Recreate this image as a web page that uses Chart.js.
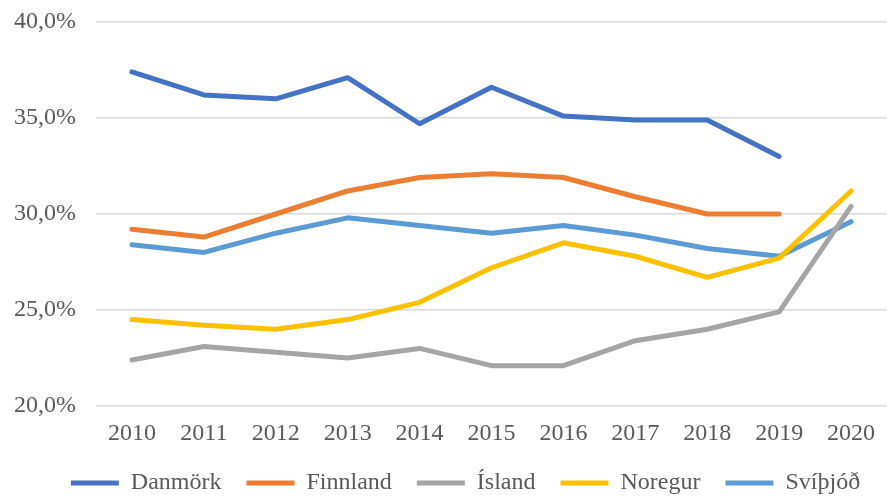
<!DOCTYPE html>
<html>
<head>
<meta charset="utf-8">
<script src="https://cdn.jsdelivr.net/npm/chart.js@4"></script>
<style>
  html, body { margin: 0; padding: 0; background: #fff; }
  #wrap { width: 887px; height: 498px; }
</style>
</head>
<body>
<div id="wrap"><canvas id="myChart"></canvas></div>
<script>
var years = ["2010", "2011", "2012", "2013", "2014", "2015", "2016", "2017", "2018", "2019", "2020"];
var danmork = [37.4, 36.2, 36.0, 37.1, 34.7, 36.6, 35.1, 34.9, 34.9, 33.0, null];
var finnland = [29.2, 28.8, 30.0, 31.2, 31.9, 32.1, 31.9, 30.9, 30.0, 30.0, null];
var island = [22.4, 23.1, 22.8, 22.5, 23.0, 22.1, 22.1, 23.4, 24.0, 24.9, 30.4];
var noregur = [24.5, 24.2, 24.0, 24.5, 25.4, 27.2, 28.5, 27.8, 26.7, 27.7, 31.2];
var svithjod = [28.4, 28.0, 29.0, 29.8, 29.4, 29.0, 29.4, 28.9, 28.2, 27.8, 29.6];

function line(label, data, color) {
  return {
    label: label,
    data: data,
    borderColor: color,
    backgroundColor: color,
    borderWidth: 5,
    borderCapStyle: "round",
    borderJoinStyle: "round",
    pointRadius: 0,
    tension: 0
  };
}

var font = { family: "'Liberation Serif', 'Times New Roman', serif", size: 24 };

// shorter legend box, drawn a bit to the right and lower, like the original
var legendFit = {
  id: "legendFit",
  beforeInit: function (chart) {
    var lg = chart.legend;
    var fit = lg.fit;
    lg.fit = function () {
      fit.call(lg);
      lg.height = 40;
    };
    lg.draw = function () {
      var c = chart.ctx;
      c.save();
      c.translate(22, -12);
      lg._draw();
      c.restore();
    };
  }
};

var ctx = document.getElementById("myChart").getContext("2d");
var myChart = new Chart(ctx, {
  type: "line",
  data: {
    labels: years,
    datasets: [
      line("Danmörk", danmork, "#4472C4"),
      line("Finnland", finnland, "#ED7D31"),
      line("Ísland", island, "#A5A5A5"),
      line("Noregur", noregur, "#FFC000"),
      line("Svíþjóð", svithjod, "#5B9BD5")
    ]
  },
  options: {
    responsive: true,
    maintainAspectRatio: false,
    animation: false,
    layout: { padding: 0 },
    plugins: {
      legend: {
        position: "bottom",
        labels: {
          usePointStyle: true,
          pointStyle: "line",
          pointStyleWidth: 48,
          color: "#595959",
          font: font,
          padding: 25
        }
      },
      tooltip: { enabled: false }
    },
    scales: {
      x: {
        offset: true,
        grid: { display: false },
        border: { display: false },
        ticks: { color: "#595959", font: font, padding: 5, maxRotation: 0 },
        afterFit: function (s) { s.height = 52; }
      },
      y: {
        min: 20,
        max: 40,
        grid: { color: "#d9d9d9", lineWidth: 1.5, drawTicks: false },
        border: { display: false },
        ticks: {
          stepSize: 5,
          color: "#595959",
          font: font,
          padding: 20,
          callback: function (v) { return v.toFixed(1).replace(".", ",") + "%"; }
        },
        afterFit: function (s) {
          s.width = 96;
          s.paddingTop = 22;
          s.paddingBottom = 0;
        }
      }
    }
  },
  plugins: [legendFit]
});
</script>
</body>
</html>
